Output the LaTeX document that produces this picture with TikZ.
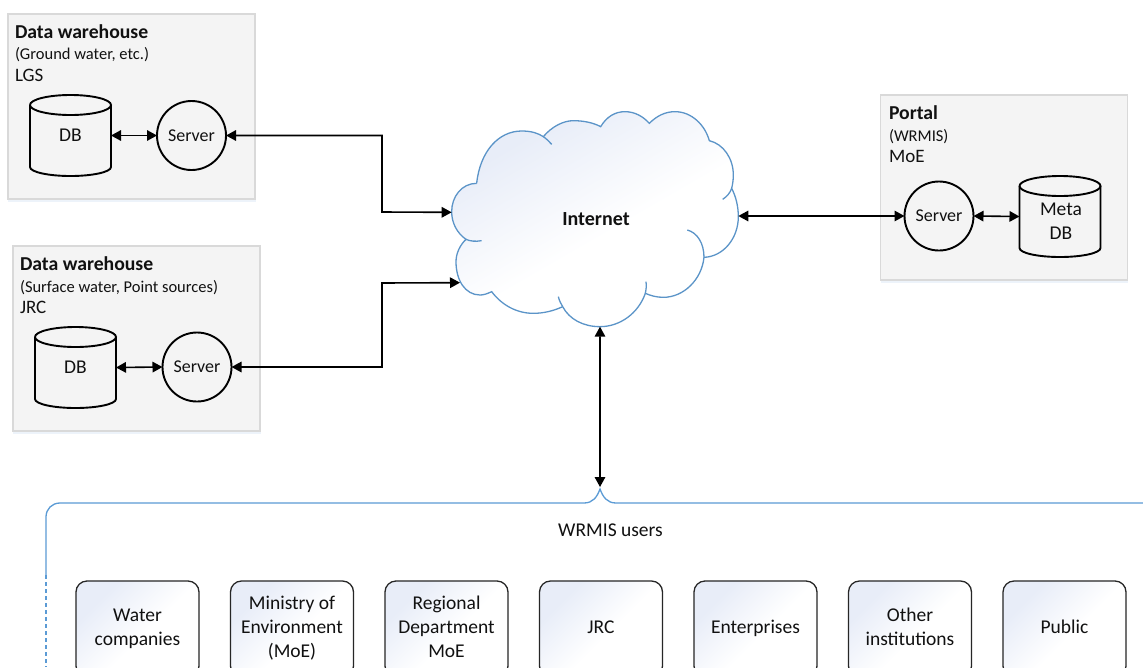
\documentclass[tikz,border=0pt]{standalone}
\usepackage{fontspec}
\setmainfont{Carlito}
\usetikzlibrary{arrows.meta,calc}
\definecolor{panelfill}{HTML}{F4F4F4}
\definecolor{panelline}{HTML}{D9D9D9}
\definecolor{panelshadow}{HTML}{EDF3FA}
\definecolor{cloudline}{HTML}{5B94C8}
\definecolor{frameline}{HTML}{5B9BD5}
\definecolor{gradblue}{HTML}{E8EDF8}
\definecolor{inkc}{HTML}{111111}
\pgfdeclareverticalshading{cornerfade}{100bp}{color(0bp)=(white); color(46bp)=(white); color(72bp)=(gradblue); color(100bp)=(gradblue)}
\newcommand{\dbcyl}[1]{%
  \draw[dbline] (#1.north west) ++(0,10) arc[start angle=180,end angle=-180,x radius=40.5pt,y radius=10pt];
  \draw[dbline] (#1.north west) ++(0,10) -- ($(#1.south west)+(0,-9)$)
    arc[start angle=180,end angle=360,x radius=40.5pt,y radius=9pt]
    -- ($(#1.north east)+(0,10)$);}
\tikzset{
  x=1pt,y=-1pt,
  every node/.style={inner sep=0pt,outer sep=0pt,text=inkc},
  txt/.style={font=\fontsize{19.5}{24}\selectfont,align=center},
  paneltitle/.style={font=\fontsize{19.7}{22}\selectfont\bfseries,anchor=base west},
  panelsub/.style={font=\fontsize{16.5}{18}\selectfont,anchor=base west},
  panelorg/.style={font=\fontsize{19}{22}\selectfont,anchor=base west},
  panelbox/.style={draw=panelline,line width=1.2pt,fill=panelfill,minimum width=#1,minimum height=185pt},
  panelbox/.default=247pt,
  servernode/.style={circle,draw=black,line width=1.9pt,fill=panelfill,minimum size=69pt,font=\fontsize{18}{22}\selectfont},
  dbbox/.style={minimum width=81pt,minimum height=81pt,txt},
  dbline/.style={draw=black,line width=1.9pt},
  userbox/.style={draw=black!85,line width=1.3pt,rounded corners=11pt,minimum width=123pt,minimum height=96pt,
    shading=cornerfade,shading angle=45,txt},
  conn/.style={draw=black,line width=1.6pt,{Triangle[length=10pt,width=10.5pt]}-{Triangle[length=10pt,width=10.5pt]}},
  cloudstroke/.style={draw=cloudline,line width=1.3pt},
  framestroke/.style={draw=frameline,line width=1.3pt},
}
\begin{document}
\begin{tikzpicture}
\useasboundingbox (0,0) rectangle (1143,667);
\clip (0,0) rectangle (1143,667);
\fill[white] (0,0) rectangle (1143,667);
% panels
\fill[panelshadow] (8,17) rectangle (256,202);
\fill[panelshadow] (13,249) rectangle (261,434);
\fill[panelshadow] (881,98) rectangle (1128,283);
\node[panelbox] (p1) at (131.5,106.5) {};
\node[panelbox] (p2) at (136.5,338.5) {};
\node[panelbox] (p3) at (1004,187.5) {};
\node[paneltitle] (t1a) at (15,38) {Data warehouse};
\node[panelsub] (t1b) at (15,59) {(Ground water, etc.)};
\node[panelorg] (t1c) at (15,81) {LGS};
\node[paneltitle] (t2a) at (20,270) {Data warehouse};
\node[panelsub] (t2b) at (20,292) {(Surface water, Point sources)};
\node[panelorg] (t2c) at (20,313) {JRC};
\node[paneltitle] (t3a) at (889,119) {Portal};
\node[panelsub] (t3b) at (889,141) {(WRMIS)};
\node[panelorg] (t3c) at (889,162) {MoE};
% databases and servers
\node[dbbox] (db1) at (70.5,135.5) {DB};
\dbcyl{db1}
\node[dbbox] (db2) at (75.5,367.5) {DB};
\dbcyl{db2}
\node[dbbox] (db3) at (1060,216.5) {};
\dbcyl{db3}
\node[txt] (db3t) at (1061,223) {\strut Meta\\\strut DB};
\node[servernode] (s1) at (191.5,135.5) {Server};
\node[servernode] (s2) at (197,367) {Server};
\node[servernode] (s3) at (939,216) {Server};
% cloud
\begin{scope}[shift={(430,80)},x=0.33333pt,y=-0.33333pt]
\path[shading=cornerfade,shading angle=30]
  (140,310) .. controls (150,215) and (205,153) .. (275,153) .. controls (305,153) and (325,160) .. (340,170)
  .. controls (365,140) and (400,122) .. (430,122) .. controls (460,122) and (490,128) .. (512,140)
  .. controls (530,110) and (555,95) .. (585,95) .. controls (615,95) and (640,110) .. (658,130)
  .. controls (680,108) and (705,95) .. (735,95) .. controls (785,95) and (825,135) .. (838,182)
  .. controls (880,192) and (910,235) .. (910,285) .. controls (910,300) and (908,312) .. (905,325)
  .. controls (918,350) and (925,380) .. (925,410) .. controls (925,475) and (880,530) .. (822,532)
  .. controls (815,600) and (760,652) .. (700,652) .. controls (680,652) and (662,647) .. (646,640)
  .. controls (625,700) and (570,740) .. (510,740) .. controls (460,740) and (418,718) .. (398,680)
  .. controls (370,693) and (340,700) .. (310,700) .. controls (260,700) and (215,675) .. (185,635)
  .. controls (170,642) and (160,645) .. (150,645) .. controls (105,645) and (78,600) .. (78,545)
  .. controls (78,520) and (90,495) .. (108,478)
  .. controls (82,460) and (65,430) .. (65,395) .. controls (65,350) and (95,310) .. (140,310) -- cycle;
\draw[cloudstroke]
  (140,310) .. controls (150,215) and (205,153) .. (275,153) .. controls (305,153) and (325,160) .. (340,170)
  .. controls (365,140) and (400,122) .. (430,122) .. controls (460,122) and (490,128) .. (512,140)
  .. controls (530,110) and (555,95) .. (585,95) .. controls (615,95) and (640,110) .. (658,130)
  .. controls (680,108) and (705,95) .. (735,95) .. controls (785,95) and (825,135) .. (838,182)
  .. controls (880,192) and (910,235) .. (910,285) .. controls (910,300) and (908,312) .. (905,325)
  .. controls (918,350) and (925,380) .. (925,410) .. controls (925,475) and (880,530) .. (822,532)
  .. controls (815,600) and (760,652) .. (700,652) .. controls (680,652) and (662,647) .. (646,640)
  .. controls (625,700) and (570,740) .. (510,740) .. controls (460,740) and (418,718) .. (398,680)
  .. controls (370,693) and (340,700) .. (310,700) .. controls (260,700) and (215,675) .. (185,635)
  .. controls (170,642) and (160,645) .. (150,645) .. controls (105,645) and (78,600) .. (78,545)
  .. controls (78,520) and (90,495) .. (108,478)
  .. controls (82,460) and (65,430) .. (65,395) .. controls (65,350) and (95,310) .. (140,310);
\draw[cloudstroke] (340,170) .. controls (350,177) and (358,185) .. (365,193);
\draw[cloudstroke] (905,325) .. controls (900,340) and (890,350) .. (878,358);
\draw[cloudstroke] (772,450) .. controls (802,458) and (822,490) .. (822,532);
\draw[cloudstroke] (648,605) .. controls (650,618) and (648,630) .. (646,640);
\draw[cloudstroke] (385,650) .. controls (388,662) and (392,670) .. (398,680);
\draw[cloudstroke] (108,478) .. controls (120,484) and (138,485) .. (155,482);
\coordinate (cW) at (65,397);
\coordinate (cSW) at (90,608);
\coordinate (cE) at (925,408);
\coordinate (cS) at (510,740);
\end{scope}
\node[font=\fontsize{20}{24}\selectfont\bfseries] (internet) at (596,219) {Internet};
% users frame
\draw[framestroke] (46,575) -- (46,517) .. controls (46,509) and (52,503) .. (60,503) -- (584,503)
  .. controls (593,503) and (597,497) .. (600,489)
  .. controls (603,497) and (607,503) .. (616,503) -- (1143,503);
\draw[framestroke,dash pattern=on 4pt off 3pt] (46,575) -- (46,667);
\coordinate (fN) at (600,487);
\node[txt] (users) at (610.5,530) {WRMIS users};
\node[userbox] (u1) at (137.5,629) {\strut Water\\\strut companies};
\node[userbox] (u2) at (292,629) {\strut Ministry of\\\strut Environment\\\strut (MoE)};
\node[userbox] (u3) at (446.5,629) {\strut Regional\\\strut Department\\\strut MoE};
\node[userbox] (u4) at (601,629) {\strut JRC};
\node[userbox] (u5) at (755.5,629) {\strut Enterprises};
\node[userbox] (u6) at (910,629) {\strut Other\\\strut institutions};
\node[userbox] (u7) at (1064.5,629) {\strut Public};
% connectors
\coordinate (b1) at (382,212);
\coordinate (b2) at (382,283);
\draw[conn] (db1.east) -- (s1.west);
\draw[conn] (db2.east) -- (s2.west);
\draw[conn] (s3.east) -- (db3.west);
\draw[conn] (s1.east) -| (b1) -- (cW);
\draw[conn] (s2.east) -| (b2) -- (cSW);
\draw[conn] (cE) -- (s3.west);
\draw[conn] (cS) -- (fN);
\end{tikzpicture}
\end{document}
